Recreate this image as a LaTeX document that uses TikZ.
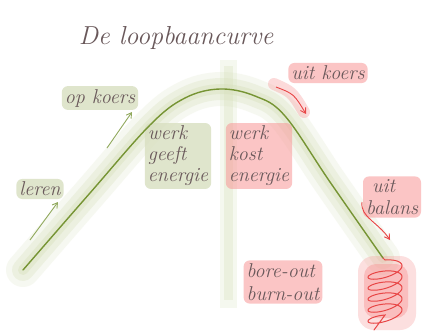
\documentclass[tikz,border=0pt]{standalone}
\usetikzlibrary{arrows.meta}
\definecolor{ink}{RGB}{105,88,90}
\definecolor{curvegreen}{RGB}{118,148,52}
\definecolor{halo}{RGB}{214,224,186}
\definecolor{greenwash}{RGB}{216,223,192}
\definecolor{redwash}{RGB}{248,150,150}
\definecolor{redink}{RGB}{232,70,70}
\tikzset{
  hand/.style={text=ink, font=\fontsize{20}{22}\selectfont\itshape, align=left, inner sep=3pt},
  gbox/.style={hand, fill=greenwash, rounded corners=6pt, fill opacity=0.8, text opacity=1},
  rbox/.style={hand, fill=redwash, rounded corners=6pt, fill opacity=0.55, text opacity=1},
  garrow/.style={draw=curvegreen!80, line width=0.9pt, -{Straight Barb[length=5pt,width=6pt]}},
  rarrow/.style={draw=redink, line width=0.9pt, -{Straight Barb[length=5pt,width=6pt]}},
  curvepath/.style={insert path={plot[smooth, tension=0.6] coordinates {(23,270) (90,193) (150,125) (185,98) (220,89) (255,96) (285,116) (330,182) (383,258)}}},
}
\begin{document}
\begin{tikzpicture}[x=1pt,y=-1pt]
\useasboundingbox[fill=white] (0,0) rectangle (439,332);
% vertical divider
\fill[halo, opacity=0.22] (220,60) rectangle (237,308);
\fill[halo, opacity=0.3] (224,66) rectangle (233,300);
% halo around curve
\draw[halo, line width=34pt, line cap=round, opacity=0.2] [curvepath];
\draw[halo, line width=22pt, line cap=round, opacity=0.3] [curvepath];
\draw[halo, line width=10pt, line cap=round, opacity=0.4] [curvepath];
% labels
\node[hand, font=\fontsize{26}{28}\selectfont\itshape] (title) at (176,38) {De loopbaancurve};
\node[gbox] (opkoers) at (100,98) {op koers};
\node[gbox] (leren) at (40,189) {leren};
\node[gbox, align=left] (geeft) at (178,156) {werk\\[-1pt]geeft\\[-1pt]energie};
\node[rbox, align=left] (kost) at (259,156) {werk\\[-1pt]kost\\[-1pt]energie};
% red glow along uit koers arrow
\draw[redwash, line width=12pt, line cap=round, opacity=0.35] (274,84) .. controls (292,92) .. (304,112);
\node[rbox] (uitkoers) at (328,73) {uit koers};
\node[rbox, align=left] (uitbalans) at (392,197) {\hspace*{6pt}uit\\balans};
\node[rbox, align=left] (bore) at (283,282) {bore-out\\[1pt]burn-out};
% red wash behind spiral
\fill[redwash, opacity=0.3, rounded corners=16pt] (358,256) rectangle (416,330);
\fill[redwash, opacity=0.45, rounded corners=12pt] (364,264) rectangle (408,318);
% main curve
\draw[curvegreen, line width=1.4pt, line cap=round] [curvepath];
\coordinate (curveend) at (383,258);
% arrows
\coordinate (lerenA) at (30,240);
\coordinate (lerenB) at (58,202);
\draw[garrow] (lerenA) -- (lerenB);
\coordinate (opA) at (107,148);
\coordinate (opB) at (132,112);
\draw[garrow] (opA) -- (opB);
\coordinate (ukA) at (276,87);
\coordinate (ukB) at (306,114);
\draw[rarrow] (ukA) .. controls (294,94) .. (ukB);
\coordinate (ubA) at (362,202);
\coordinate (ubB) at (390,240);
\draw[rarrow] (ubA) .. controls (360,217) and (378,222) .. (ubB);
% spiral
\draw[redink, line width=1pt, line cap=round]
  (curveend) -- plot[domain=0:1800, samples=300, smooth] ({385+17*sin(\x)}, {260+\x/360*11+6*(1-cos(\x))-3*sin(\x)})
  -- (374,330);
\end{tikzpicture}
\end{document}
